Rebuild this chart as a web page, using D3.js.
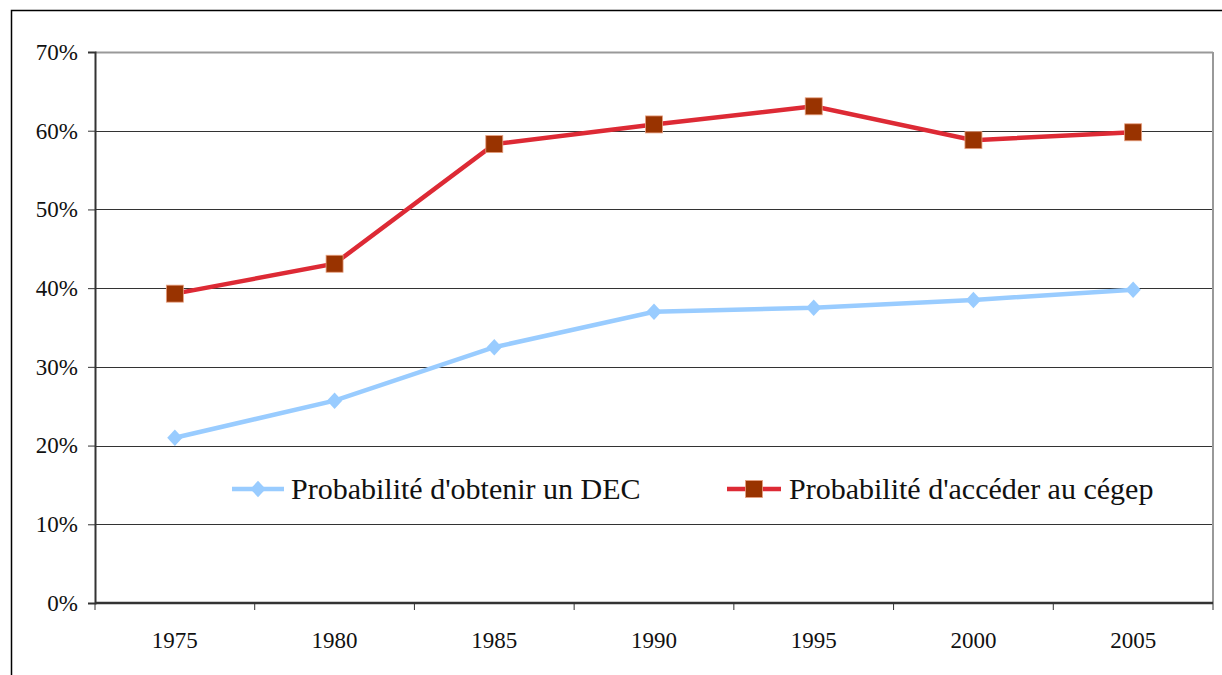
<!DOCTYPE html>
<html>
<head>
<meta charset="utf-8">
<script src="https://cdn.jsdelivr.net/npm/d3@7"></script>
<style>
  body { margin: 0; background: #fff; }
  svg text { font-family: "Liberation Serif", "Times New Roman", serif; fill: #111; }
</style>
</head>
<body>
<svg id="chart" width="1222" height="675" font-family="Liberation Serif, serif"></svg>
<script>
// data
const years = ["1975", "1980", "1985", "1990", "1995", "2000", "2005"];
const decValues = [21.0, 25.7, 32.5, 37.0, 37.5, 38.5, 39.8];
const cegepValues = [39.3, 43.1, 58.3, 60.8, 63.1, 58.8, 59.8];
const yTicks = [0, 10, 20, 30, 40, 50, 60, 70];
const seriesNames = ["Probabilité d'obtenir un DEC", "Probabilité d'accéder au cégep"];

const svg = d3.select("#chart");
const plotLeft = 95, plotRight = 1213, plotTop = 52, plotBottom = 603;
const serif = "Liberation Serif, Times New Roman, serif";
const blue = "#99CCFF", red = "#DD2A35", brown = "#993300";

// outer frame
svg.append("path")
    .attr("d", "M11.5,675 V10.5 H1222")
    .attr("fill", "none")
    .attr("stroke", "#000")
    .attr("stroke-width", 1.5);

const x = d3.scaleBand().domain(years).range([plotLeft, plotRight]);
const y = d3.scaleLinear().domain([0, 70]).range([plotBottom, plotTop]);

// gridlines
svg.append("g")
    .selectAll("line")
    .data(yTicks.filter(d => d > 0))
    .enter().append("line")
    .attr("x1", plotLeft).attr("x2", plotRight)
    .attr("y1", d => Math.round(y(d)) + 0.5)
    .attr("y2", d => Math.round(y(d)) + 0.5)
    .attr("stroke", d => d === 70 ? "#999" : "#333")
    .attr("stroke-width", d => d === 70 ? 2 : 1);

// right border of plot area
svg.append("line")
    .attr("x1", plotRight).attr("x2", plotRight)
    .attr("y1", plotTop).attr("y2", plotBottom)
    .attr("stroke", "#999").attr("stroke-width", 2);

// y axis
const yAxis = svg.append("g")
    .attr("transform", `translate(${plotLeft},0)`)
    .call(d3.axisLeft(y).tickValues(yTicks).tickFormat(d => d + "%").tickSize(7).tickPadding(10));
yAxis.attr("font-family", serif);
yAxis.select(".domain").attr("stroke", "#333").attr("stroke-width", 2);
yAxis.selectAll(".tick line").attr("stroke", "#333");
yAxis.selectAll("text").attr("font-size", 23).attr("fill", "#111").attr("font-family", serif);

// x axis: ticks at category boundaries
const xAxis = svg.append("g")
    .attr("transform", `translate(0,${plotBottom})`);
xAxis.append("line")
    .attr("x1", plotLeft).attr("x2", plotRight)
    .attr("stroke", "#333").attr("stroke-width", 2.5);
const bounds = years.map(d => x(d)).concat([plotRight]);
xAxis.selectAll("line.tk")
    .data(bounds)
    .enter().append("line")
    .attr("class", "tk")
    .attr("x1", d => d).attr("x2", d => d)
    .attr("y1", 0).attr("y2", 7)
    .attr("stroke", "#333");
xAxis.selectAll("text")
    .data(years)
    .enter().append("text")
    .attr("x", d => x(d) + x.bandwidth() / 2)
    .attr("y", 45)
    .attr("text-anchor", "middle")
    .attr("font-size", 23)
    .attr("font-family", serif)
    .text(d => d);

const cx = d => x(d) + x.bandwidth() / 2;
const line = d3.line().x((d, i) => cx(years[i])).y(d => y(d));

// DEC series (light blue, diamonds)
svg.append("path")
    .datum(decValues)
    .attr("d", line)
    .attr("fill", "none")
    .attr("stroke", blue)
    .attr("stroke-width", 4.5);
svg.selectAll("path.diamond")
    .data(decValues)
    .enter().append("path")
    .attr("class", "diamond")
    .attr("d", d3.symbol().type(d3.symbolDiamond2).size(150))
    .attr("transform", (d, i) => `translate(${cx(years[i])},${y(d)}) scale(1,1.08)`)
    .attr("fill", blue);

// Cegep series (red, brown squares)
svg.append("path")
    .datum(cegepValues)
    .attr("d", line)
    .attr("fill", "none")
    .attr("stroke", red)
    .attr("stroke-width", 4.5);
svg.selectAll("rect.square")
    .data(cegepValues)
    .enter().append("rect")
    .attr("class", "square")
    .attr("x", (d, i) => cx(years[i]) - 8.5)
    .attr("y", d => y(d) - 8.5)
    .attr("width", 17).attr("height", 17)
    .attr("fill", brown)
    .attr("stroke", "#E8A080")
    .attr("stroke-width", 0.8);

// legend
const legend = svg.append("g").attr("transform", "translate(0,489)");
const lg1 = legend.append("g").attr("transform", "translate(232,0)");
lg1.append("line").attr("x1", 0).attr("x2", 52).attr("stroke", blue).attr("stroke-width", 4.5);
lg1.append("path").attr("d", d3.symbol().type(d3.symbolDiamond2).size(150))
    .attr("transform", "translate(26,0) scale(1,1.08)").attr("fill", blue);
lg1.append("text").attr("x", 59).attr("y", 10).attr("font-size", 30)
    .attr("font-family", serif).text(seriesNames[0]);

const lg2 = legend.append("g").attr("transform", "translate(727,0)");
lg2.append("line").attr("x1", 0).attr("x2", 54).attr("stroke", red).attr("stroke-width", 4.5);
lg2.append("rect").attr("x", 18.5).attr("y", -8.5).attr("width", 17).attr("height", 17)
    .attr("fill", brown).attr("stroke", "#E8A080").attr("stroke-width", 0.8);
lg2.append("text").attr("x", 62).attr("y", 10).attr("font-size", 30)
    .attr("font-family", serif).text(seriesNames[1]);
</script>
</body>
</html>
